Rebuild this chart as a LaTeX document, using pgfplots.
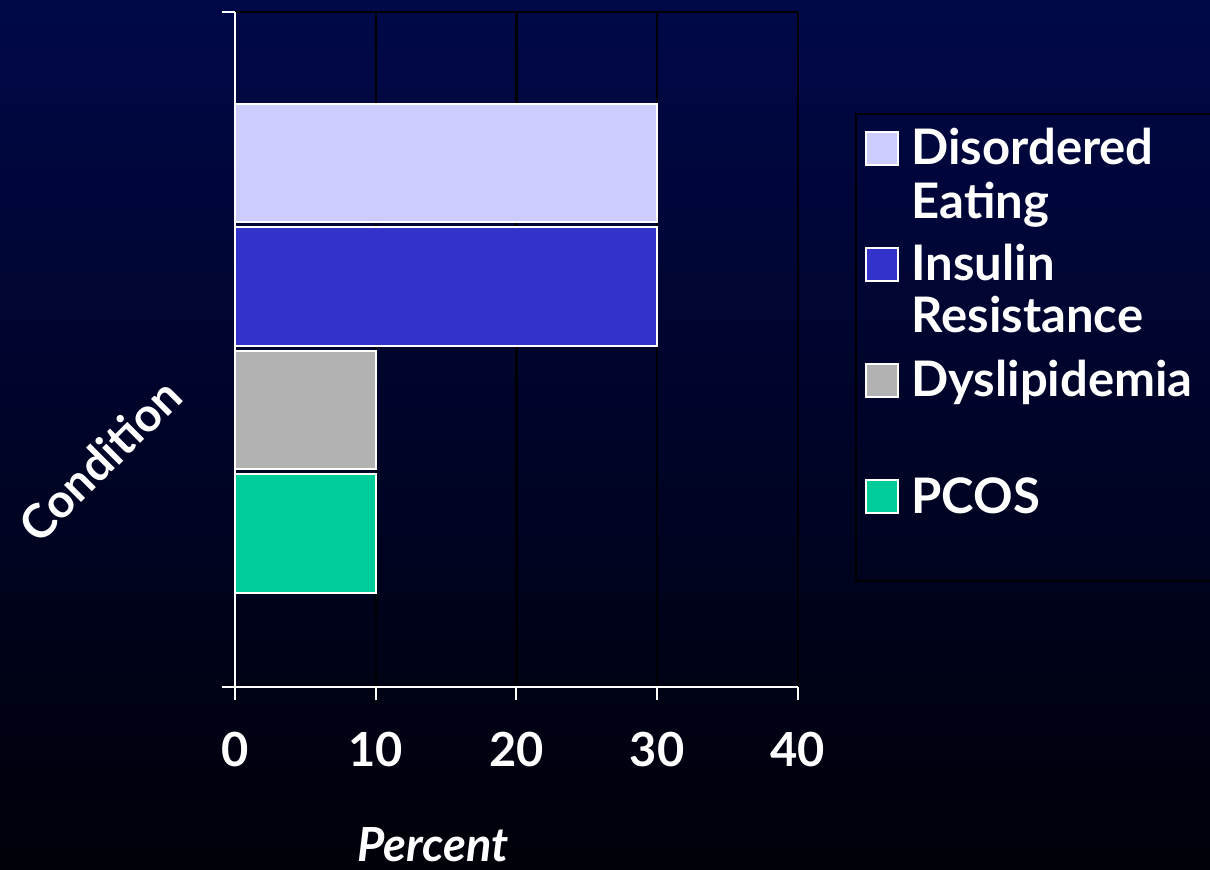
\documentclass[border=0pt]{standalone}
\usepackage{pgfplots}
\pgfplotsset{compat=1.18}
\usepackage{fontspec}
\setmainfont{Lato}
\definecolor{bgtop}{RGB}{0,8,72}
\definecolor{bgbot}{RGB}{0,0,8}
\definecolor{cDE}{RGB}{204,204,255}
\definecolor{cIR}{RGB}{51,51,204}
\definecolor{cDY}{RGB}{178,178,178}
\definecolor{cPC}{RGB}{0,204,153}
\newcommand\bigf{\fontsize{23.5}{26}\selectfont\bfseries}
\newcommand\legf{\fontsize{24.5}{26}\selectfont\bfseries}
\newcommand\entry[2]{\parbox[t]{150pt}{#1\strut\\#2\strut}}
\begin{document}
\begin{tikzpicture}
\useasboundingbox (0,0) rectangle (605pt,434.5pt);
\shade[top color=bgtop,bottom color=bgbot] (0,0) rectangle (605pt,434.5pt);
\begin{axis}[
  at={(117.5pt,91pt)}, anchor=south west,
  scale only axis, width=281.5pt, height=337.5pt,
  xmin=0, xmax=40, ymin=-1.243, ymax=4.223,
  axis x line*=bottom, axis y line*=left,
  axis line style={white, line width=1pt},
  xtick={0,10,20,30,40}, ytick={-1.243,4.223}, yticklabels={},
  tick align=outside, major tick length=6.5pt,
  tick style={white, line width=1pt},
  xmajorgrids, ymajorgrids,
  grid style={black, line width=1.2pt},
  /pgf/number format/assume math mode=true,
  xticklabel style={font=\bigf, text=white, yshift=-12.5pt},
  xlabel={Percent},
  every axis x label/.style={at={(axis description cs:0.352,0)}, anchor=base, yshift=-87pt, font=\bigf\itshape, text=white},
  ylabel={Condition},
  every axis y label/.style={at={(axis description cs:-0.24,0.336)}, rotate=45, anchor=center, font=\bigf, text=white},
  legend style={at={(axis description cs:1.101,0.8504)}, anchor=north west, draw=black, line width=1pt, fill=none, text=white, font=\legf, inner sep=4.8pt, row sep=8.6pt, cells={anchor=base west}, nodes={inner ysep=2pt, inner xsep=6pt, text height=18.5pt, text depth=27pt}},
  legend image code/.code={\draw[#1] (0pt,0pt) rectangle (16pt,16.5pt);},
]
\addplot[xbar, bar shift=0, bar width=0.96, fill=cDE, draw=white, line width=1pt] coordinates {(30,3)};
\addlegendentry{\entry{Disordered}{Eating}}
\addplot[xbar, bar shift=0, bar width=0.96, fill=cIR, draw=white, line width=1pt] coordinates {(30,2)};
\addlegendentry{\entry{Insulin}{Resistance}}
\addplot[xbar, bar shift=0, bar width=0.96, fill=cDY, draw=white, line width=1pt] coordinates {(10,1)};
\addlegendentry{\entry{Dyslipidemia}{}}
\addplot[xbar, bar shift=0, bar width=0.96, fill=cPC, draw=white, line width=1pt] coordinates {(10,0)};
\addlegendentry{\entry{PCOS}{}}
\end{axis}
\end{tikzpicture}
\end{document}
